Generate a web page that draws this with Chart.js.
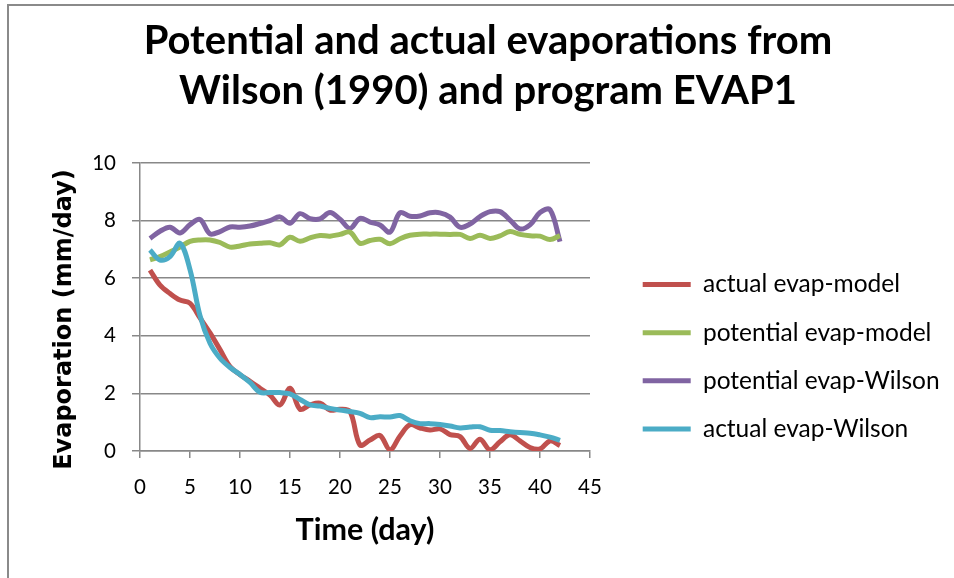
<!DOCTYPE html>
<html>
<head>
<meta charset="utf-8">
<title>Potential and actual evaporations</title>
<script src="https://cdn.jsdelivr.net/npm/chart.js@4.4.0/dist/chart.umd.min.js"></script>
<style>
    html, body {
        margin: 0;
        padding: 0;
        background: #fff;
        width: 954px;
        height: 578px;
        overflow: hidden;
    }
    #frame {
        position: absolute;
        left: 7px;
        top: 4px;
        border-left: 2px solid #8a8a8a;
        border-top: 2px solid #8a8a8a;
    }
    #frame canvas {
        display: block;
    }
</style>
</head>
<body>
<div id="frame">
    <canvas id="evapChart" width="958" height="572"></canvas>
</div>
<script>
// Data (day 1 - 42)
const days = [1, 2, 3, 4, 5, 6, 7, 8, 9, 10, 11, 12, 13, 14, 15, 16, 17, 18, 19, 20, 21,
    22, 23, 24, 25, 26, 27, 28, 29, 30, 31, 32, 33, 34, 35, 36, 37, 38, 39, 40, 41, 42];

const actualModel = [6.28, 5.76, 5.47, 5.24, 5.13, 4.62, 4.10, 3.52, 2.93, 2.65, 2.42, 2.18, 1.94, 1.60, 2.18, 1.45,
    1.60, 1.66, 1.42, 1.45, 1.37, 0.21, 0.38, 0.54, 0.04, 0.52, 0.91, 0.80, 0.73, 0.77, 0.57, 0.50,
    0.09, 0.41, 0.04, 0.32, 0.56, 0.35, 0.12, 0.07, 0.35, 0.19];

const potentialModel = [6.64, 6.75, 6.91, 7.08, 7.28, 7.33, 7.33, 7.24, 7.08, 7.12, 7.19, 7.21, 7.23, 7.16, 7.42, 7.28,
    7.40, 7.48, 7.46, 7.52, 7.60, 7.21, 7.31, 7.35, 7.20, 7.37, 7.49, 7.53, 7.53, 7.53, 7.52, 7.52,
    7.38, 7.49, 7.38, 7.47, 7.62, 7.52, 7.47, 7.46, 7.34, 7.48];

const potentialWilson = [7.38, 7.63, 7.77, 7.57, 7.86, 8.04, 7.54, 7.62, 7.78, 7.77, 7.81, 7.90, 8.00, 8.13, 7.91, 8.24,
    8.07, 8.06, 8.28, 8.05, 7.73, 8.08, 7.95, 7.85, 7.60, 8.27, 8.15, 8.16, 8.27, 8.27, 8.12, 7.77,
    7.88, 8.14, 8.31, 8.31, 8.02, 7.71, 7.85, 8.28, 8.38, 7.27];

const actualWilson = [6.98, 6.63, 6.75, 7.21, 6.30, 4.70, 3.74, 3.22, 2.90, 2.66, 2.38, 2.04, 2.03, 2.03, 1.98, 1.79,
    1.60, 1.56, 1.48, 1.42, 1.37, 1.31, 1.16, 1.19, 1.18, 1.23, 1.05, 0.95, 0.95, 0.92, 0.87, 0.80,
    0.83, 0.84, 0.72, 0.71, 0.67, 0.64, 0.62, 0.56, 0.48, 0.37];

const seriesNames = ['actual evap-model', 'potential evap-model', 'potential evap-Wilson', 'actual evap-Wilson'];
const seriesColors = ['#C0504D', '#9BBB59', '#8064A2', '#4BACC6'];

// Layout constants (canvas px)
const PLOT_LEFT = 131;
const PLOT_RIGHT = 581;
const LEGEND_GAP = 29;
const GRID_COLOR = '#888888';

Chart.defaults.font.family = "'Lato', 'Open Sans', sans-serif";
Chart.defaults.color = '#000';

/**
 * Pair each day with a value so the linear x scale can place it
 */
function toPoints(values) {
    return days.map((d, i) => ({ x: d, y: values[i] }));
}

function makeDataset(idx, values, drawOrder) {
    return {
        label: seriesNames[idx],
        data: toPoints(values),
        borderColor: seriesColors[idx],
        backgroundColor: seriesColors[idx],
        borderWidth: 5,
        pointRadius: 0,
        pointHoverRadius: 0,
        pointStyle: 'line',
        tension: 0.35,
        fill: false,
        order: drawOrder,
        xAxisID: 'x',
        yAxisID: 'y'
    };
}

const ctx = document.getElementById('evapChart').getContext('2d');

new Chart(ctx, {
    type: 'line',
    data: {
        datasets: [
            makeDataset(0, actualModel, 1),
            makeDataset(1, potentialModel, 2),
            makeDataset(2, potentialWilson, 3),
            makeDataset(3, actualWilson, 0)
        ]
    },
    options: {
        responsive: false,
        animation: false,
        layout: { padding: 0 },
        plugins: {
            title: {
                display: true,
                text: ['Potential and actual evaporations from', 'Wilson (1990) and program EVAP1'],
                font: { size: 40, weight: 'bold', lineHeight: '50px' },
                color: '#000',
                padding: { top: 10, bottom: 47 }
            },
            legend: {
                position: 'right',
                align: 'start',
                maxWidth: 1000,
                title: {
                    display: true,
                    text: '',
                    font: { size: 10, lineHeight: 1 },
                    padding: { top: 0, bottom: 232.5 }
                },
                labels: {
                    usePointStyle: true,
                    pointStyleWidth: 48,
                    padding: 23.7,
                    color: '#000',
                    font: { size: 24.5 },
                    sort: (a, b) => a.datasetIndex - b.datasetIndex
                }
            },
            tooltip: { enabled: false }
        },
        scales: {
            x: {
                type: 'linear',
                min: 0,
                max: 45,
                ticks: {
                    stepSize: 5,
                    padding: 17,
                    font: { size: 20.5 },
                    color: '#000'
                },
                grid: {
                    drawOnChartArea: false,
                    drawTicks: true,
                    tickLength: 7,
                    color: GRID_COLOR,
                    lineWidth: 1.5
                },
                border: { color: GRID_COLOR, width: 1.5 },
                title: {
                    display: true,
                    text: 'Time (day)',
                    font: { size: 30.5, weight: 'bold' },
                    color: '#000',
                    padding: { top: 0, bottom: 30 }
                },
                afterFit: (scale) => { scale.height = 127; }
            },
            y: {
                type: 'linear',
                min: 0,
                max: 10,
                ticks: {
                    stepSize: 2,
                    padding: 16,
                    font: { size: 20.5 },
                    color: '#000'
                },
                grid: {
                    color: GRID_COLOR,
                    lineWidth: 1.5,
                    tickLength: 8
                },
                border: { color: GRID_COLOR, width: 1.5 },
                title: {
                    display: true,
                    text: 'Evaporation (mm/day)   ',
                    font: { family: "'DejaVu Sans', Verdana, sans-serif", size: 24, weight: 'bold' },
                    color: '#000',
                    padding: { top: 41, bottom: 0 }
                },
                afterFit: (scale) => { scale.width = PLOT_LEFT; }
            },
            // spacing between the plot and the legend
            gapInner: {
                type: 'linear',
                position: 'right',
                display: false,
                afterFit: (scale) => { scale.width = LEGEND_GAP; }
            },
            // fills the rest of the right side so the plot ends where the reference does
            gapOuter: {
                type: 'linear',
                position: 'right',
                display: false,
                weight: 2000,
                afterFit: (scale) => {
                    const lg = scale.chart.legend;
                    const used = lg ? lg.width : 0;
                    scale.width = Math.max(0, scale.chart.width - PLOT_RIGHT - LEGEND_GAP - used);
                }
            }
        }
    }
});
</script>
</body>
</html>
